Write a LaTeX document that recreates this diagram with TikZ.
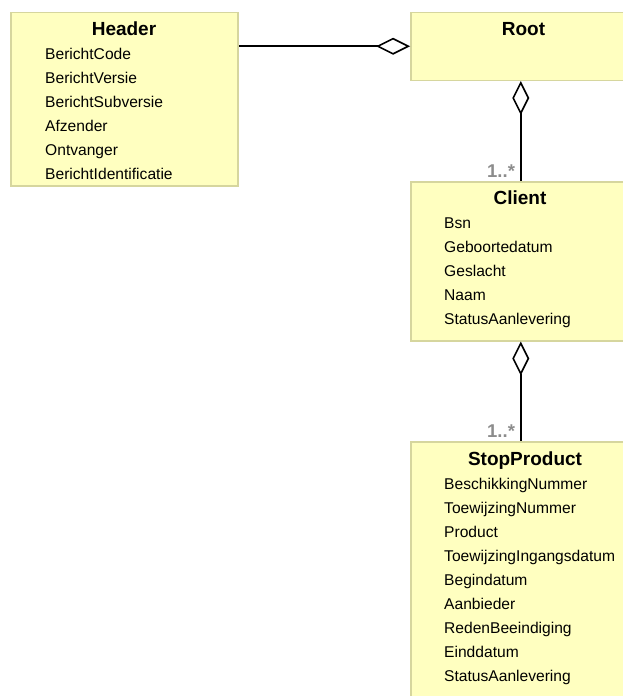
\documentclass[tikz,border=0pt]{standalone}
\usepackage{fontspec}
\setmainfont{Liberation Sans}
\usetikzlibrary{arrows.meta}

\definecolor{classfill}{RGB}{255,255,192}
\definecolor{classline}{RGB}{214,214,158}
\definecolor{multgray}{RGB}{140,140,140}

\tikzset{
  classbox/.style={draw=classline, fill=classfill, line width=1.5pt,
    rectangle, anchor=north west, minimum width=227pt, inner sep=0pt},
  classtitle/.style={font=\fontsize{19}{21}\selectfont\bfseries, anchor=base},
  attr/.style={font=\fontsize{15.6}{18}\selectfont, anchor=base west, inner sep=0pt},
  mult/.style={font=\fontsize{18.5}{20}\selectfont\bfseries, text=multgray,
    anchor=base east, inner sep=0pt},
  aggr/.style={{Diamond[open,length=34pt,width=17pt]}-, line width=1.6pt}
}

\begin{document}
\begin{tikzpicture}[x=1pt,y=-1pt]
      \path[use as bounding box,clip] (0,0) rectangle (623,696);
      % class boxes
      \path
        (10,11.5) node[classbox, minimum height=173.5pt] (header){}
        (410,11.5) node[classbox, minimum height=68pt] (root){}
        (410,181) node[classbox, minimum height=159pt] (client){}
        (410,441) node[classbox, minimum height=290pt] (stopproduct){};
      % titles
      \path
        (124,35) node[classtitle] (headertitle){Header}
        (523.5,35) node[classtitle] (roottitle){Root}
        (520,204) node[classtitle] (clienttitle){Client}
        (525,465) node[classtitle] (stopproducttitle){StopProduct};
      % Header attributes
      \path
        (45,59) node[attr] (berichtcode){BerichtCode}
        (45,83) node[attr] (berichtversie){BerichtVersie}
        (45,107) node[attr] (berichtsubversie){BerichtSubversie}
        (45,131) node[attr] (afzender){Afzender}
        (45,155) node[attr] (ontvanger){Ontvanger}
        (45,179) node[attr] (berichtid){BerichtIdentificatie};
      % Client attributes
      \path
        (444,228) node[attr] (bsn){Bsn}
        (444,252) node[attr] (geboortedatum){Geboortedatum}
        (444,276) node[attr] (geslacht){Geslacht}
        (444,300) node[attr] (naam){Naam}
        (444,324) node[attr] (clientstatus){StatusAanlevering};
      % StopProduct attributes
      \path
        (444,489) node[attr] (beschikking){BeschikkingNummer}
        (444,513) node[attr] (toewijzing){ToewijzingNummer}
        (444,537) node[attr] (product){Product}
        (444,561) node[attr] (ingangsdatum){ToewijzingIngangsdatum}
        (444,585) node[attr] (begindatum){Begindatum}
        (444,609) node[attr] (aanbieder){Aanbieder}
        (444,633) node[attr] (reden){RedenBeeindiging}
        (444,657) node[attr] (einddatum){Einddatum}
        (444,681) node[attr] (productstatus){StatusAanlevering};
      % aggregations
      \begin{scope}[aggr]
        \draw (root.west) -- (root.west -| header.east);
        \draw ([xshift=-3.5]root.south) -- ([xshift=-3.5]client.north)
          node[mult, pos=1, xshift=-5, yshift=4] (clientmult){1..*};
        \draw ([xshift=-3.5]client.south) -- ([xshift=-3.5]stopproduct.north)
          node[mult, pos=1, xshift=-5, yshift=4] (stopmult){1..*};
      \end{scope}
    \end{tikzpicture}
\end{document}
